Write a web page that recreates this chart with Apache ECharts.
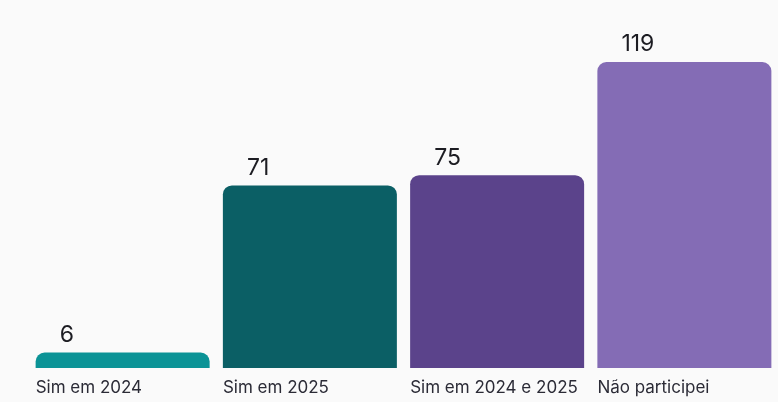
<!DOCTYPE html>
<html>
<head>
<meta charset="utf-8">
<script src="https://cdn.jsdelivr.net/npm/echarts@6/dist/echarts.min.js"></script>
<style>
html,body{margin:0;padding:0;background:#fafafa;}
#c{width:778px;height:402px;}
</style>
</head>
<body>
<div id="c"></div>
<script>
const categories = ['Sim em 2024', 'Sim em 2025', 'Sim em 2024 e 2025', 'Não participei'];
const values = [6, 71, 75, 119];
const colors = ['#0b9396', '#0b5f65', '#5b438b', '#846cb5'];

const chart = echarts.init(document.getElementById('c'), null, {renderer: 'canvas'});
chart.setOption({
  backgroundColor: '#fafafa',
  animation: false,
  grid: {left: 29, right: 0, top: 62, bottom: 34},
  xAxis: {
    type: 'category',
    data: categories,
    axisLine: {show: false},
    axisTick: {show: false},
    axisLabel: {show: false}
  },
  yAxis: {
    type: 'value',
    min: 0,
    max: 119,
    show: false,
    splitLine: {show: false}
  },
  series: [
    {
      type: 'bar',
      barWidth: 174,
      data: values.map((v, i) => ({value: v, itemStyle: {color: colors[i]}})),
      itemStyle: {borderRadius: [9, 9, 0, 0]},
      label: {
        show: true,
        position: [24, -6],
        align: 'left',
        verticalAlign: 'bottom',
        fontFamily: 'Inter',
        fontSize: 23,
        color: '#1c1c22',
        formatter: '{c}'
      }
    },
    {
      type: 'bar',
      barWidth: 174,
      barGap: '-100%',
      silent: true,
      data: values,
      itemStyle: {color: 'rgba(0,0,0,0)'},
      label: {
        show: true,
        position: [0, '100%'],
        offset: [0, 11],
        align: 'left',
        verticalAlign: 'top',
        fontFamily: 'Inter',
        fontSize: 17,
        color: '#2b2b36',
        formatter: '{b}'
      }
    }
  ]
});
</script>
</body>
</html>
